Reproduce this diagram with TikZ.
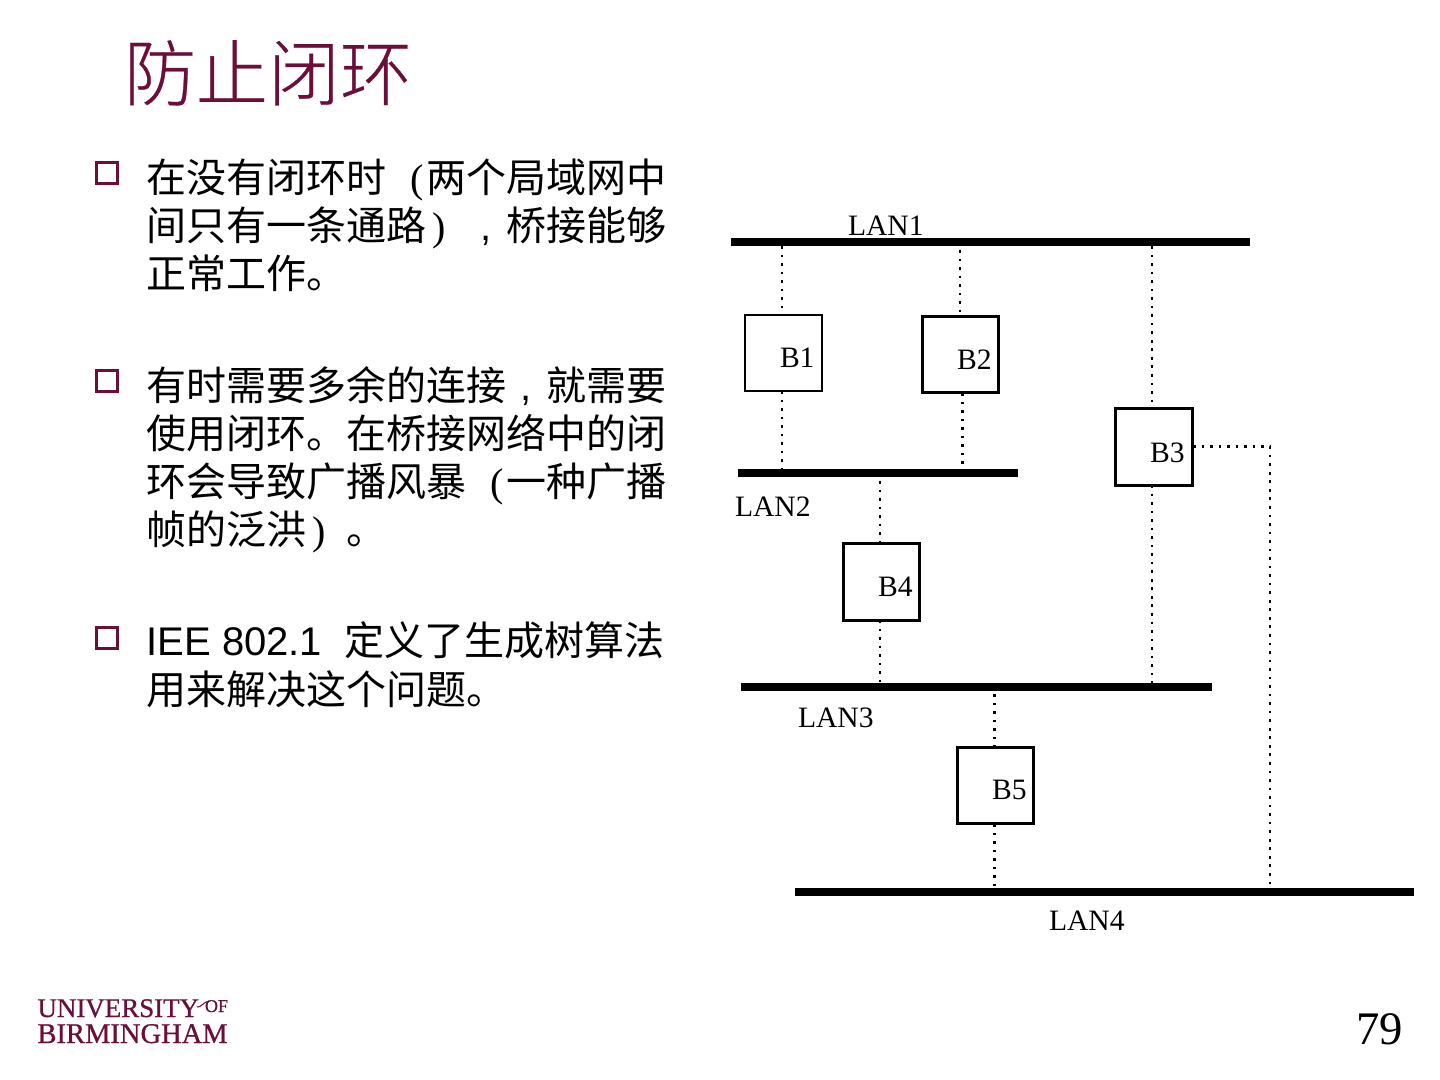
\documentclass[tikz,border=0pt]{standalone}
\usepackage{fontspec}
\setmainfont{Liberation Serif}
\newfontfamily\cjk{Noto Sans CJK SC}
\newfontfamily\cjktitle[FakeBold=0.4]{Noto Sans CJK SC Light}
\newfontfamily\latinsans{Liberation Sans}
\newfontfamily\logoserif[FakeBold=0.8]{Liberation Serif}
\definecolor{maroon}{HTML}{6B0F3A}
\newcommand{\fwcomma}{\makebox[30pt][c]{\latinsans,}}
\newcommand{\fwopen}{\makebox[30pt][r]{\rmfamily(\kern2pt}}
\newcommand{\fwclose}{\makebox[30pt][l]{\kern4.5pt\rmfamily)}}
\tikzset{
  x=0.75pt,y=-0.75pt,
  txt/.style={anchor=base west,inner sep=0pt,outer sep=0pt},
  titletxt/.style={txt,text=maroon,font=\cjktitle\fontsize{54}{60}\selectfont},
  bodytxt/.style={txt,text=black,font=\cjk\fontsize{30}{36}\selectfont},
  bul/.style={draw=maroon,line width=2.2pt,fill=white,minimum size=16pt,inner sep=0pt,outer sep=0pt,anchor=center},
  lan/.style={fill=black,inner sep=0pt,outer sep=0pt,minimum height=6pt,anchor=west},
  bridge/.style={draw=black,line width=2.2pt,fill=white,minimum size=57.2pt,inner sep=0pt,outer sep=0pt,anchor=center},
  dlabel/.style={txt,text=black,font=\fontsize{22.2}{26}\selectfont},
  link/.style={draw=black,line width=2pt,dash pattern=on 2pt off 4.4pt},
  logotxt/.style={txt,text=maroon},
}
\begin{document}
\begin{tikzpicture}
\useasboundingbox (0,0) rectangle (1440,1080);
\node[titletxt] (title) at (124,100) {防止闭环};
% bullets
\node[bul] (b-a) at (107,173) {};
\node[bul] (b-b) at (107,381) {};
\node[bul] (b-c) at (107,638) {};
% body
\node[bodytxt] (t1) at (146.5,193) {在没有闭环时\fwopen 两个局域网中};
\node[bodytxt] (t2) at (146.5,241) {间只有一条通路\fwclose\fwcomma 桥接能够};
\node[bodytxt] (t3) at (146.5,289) {正常工作。};
\node[bodytxt] (t4) at (146.5,401) {有时需要多余的连接\fwcomma 就需要};
\node[bodytxt] (t5) at (146.5,449) {使用闭环。在桥接网络中的闭};
\node[bodytxt] (t6) at (146.5,497) {环会导致广播风暴\fwopen 一种广播};
\node[bodytxt] (t7) at (146.5,545) {帧的泛洪\fwclose 。};
\node[bodytxt] (t8) at (146.5,656) {{\latinsans IEE 802.1\ \ }定义了生成树算法};
\node[bodytxt] (t9) at (146.5,704) {用来解决这个问题。};
% LAN bars
\node[lan,minimum width=389.25pt] (lan1) at (731,242) {};
\node[lan,minimum width=210pt] (lan2) at (738,473) {};
\node[lan,minimum width=353.25pt] (lan3) at (741,687) {};
\node[lan,minimum width=464.25pt] (lan4) at (795,892) {};
% bridges
\node[bridge,line width=1.6pt,minimum size=57.6pt] (br1) at (783.5,353) {};
\node[bridge] (br2) at (960.5,354.5) {};
\node[bridge] (br3) at (1154,447) {};
\node[bridge] (br4) at (881.5,582) {};
\node[bridge] (br5) at (995.5,785.5) {};
% connector points
\coordinate (l1a) at (782,246);
\coordinate (a1a) at (782,315);
\coordinate (a1b) at (782,391);
\coordinate (l2a) at (782,469);
\coordinate (l1b) at (960,250);
\coordinate (a2a) at (960,316);
\coordinate (a2b) at (962.5,393);
\coordinate (l2b) at (962.5,465);
\coordinate (l1c) at (1152,246);
\coordinate (a3a) at (1152,409);
\coordinate (a3b) at (1152,485);
\coordinate (l3c) at (1152,683);
\coordinate (l2d) at (880,481);
\coordinate (a4a) at (880,544);
\coordinate (a4b) at (880,620);
\coordinate (l3d) at (880,683);
\coordinate (l3e) at (994.5,694);
\coordinate (a5a) at (994.5,747);
\coordinate (a5b) at (994.5,824);
\coordinate (l4e) at (994.5,888);
\coordinate (a3r) at (1193,446.5);
\coordinate (cor) at (1270,446.5);
\coordinate (l4r) at (1270,888);
% connectors
\draw[link] (l1a) -- (a1a);
\draw[link] (a1b) -- (l2a);
\draw[link] (l1b) -- (a2a);
\draw[link] (a2b) -- (l2b);
\draw[link] (l1c) -- (a3a);
\draw[link] (a3b) -- (l3c);
\draw[link] (l2d) -- (a4a);
\draw[link] (a4b) -- (l3d);
\draw[link] (l3e) -- (a5a);
\draw[link] (a5b) -- (l4e);
\draw[link] (a3r) -- (cor) -- (l4r);
% labels
\node[dlabel] (n1) at (848,236) {LAN1};
\node[dlabel] (n2) at (735,516.5) {LAN2};
\node[dlabel] (n3) at (798,727) {LAN3};
\node[dlabel] (n4) at (1049,930) {LAN4};
\node[dlabel] (m1) at (780,367.5) {B1};
\node[dlabel] (m2) at (957,369.5) {B2};
\node[dlabel] (m3) at (1150,462.5) {B3};
\node[dlabel] (m4) at (878,597) {B4};
\node[dlabel] (m5) at (992,799) {B5};
% logo
\node[logotxt,font=\logoserif\fontsize{20.2}{24}\selectfont] (lg1) at (37.5,1017) {UNIVERSITY};
\node[logotxt,font=\logoserif\fontsize{21.4}{24}\selectfont] (lg2) at (37.5,1043) {BIRMINGHAM};
\node[logotxt,font=\logoserif\fontsize{13.5}{16}\selectfont] (lg3) at (205,1012) {OF};
\coordinate (sw1) at (197,1007);
\coordinate (sw2) at (209,1001);
\draw[maroon,line width=0.8pt] (sw1) .. controls (201,1008) and (203,1002) .. (sw2);
% page number
\node[txt,text=black,font=\fontsize{35}{40}\selectfont] (pg) at (1356,1044) {79};
\end{tikzpicture}
\end{document}
